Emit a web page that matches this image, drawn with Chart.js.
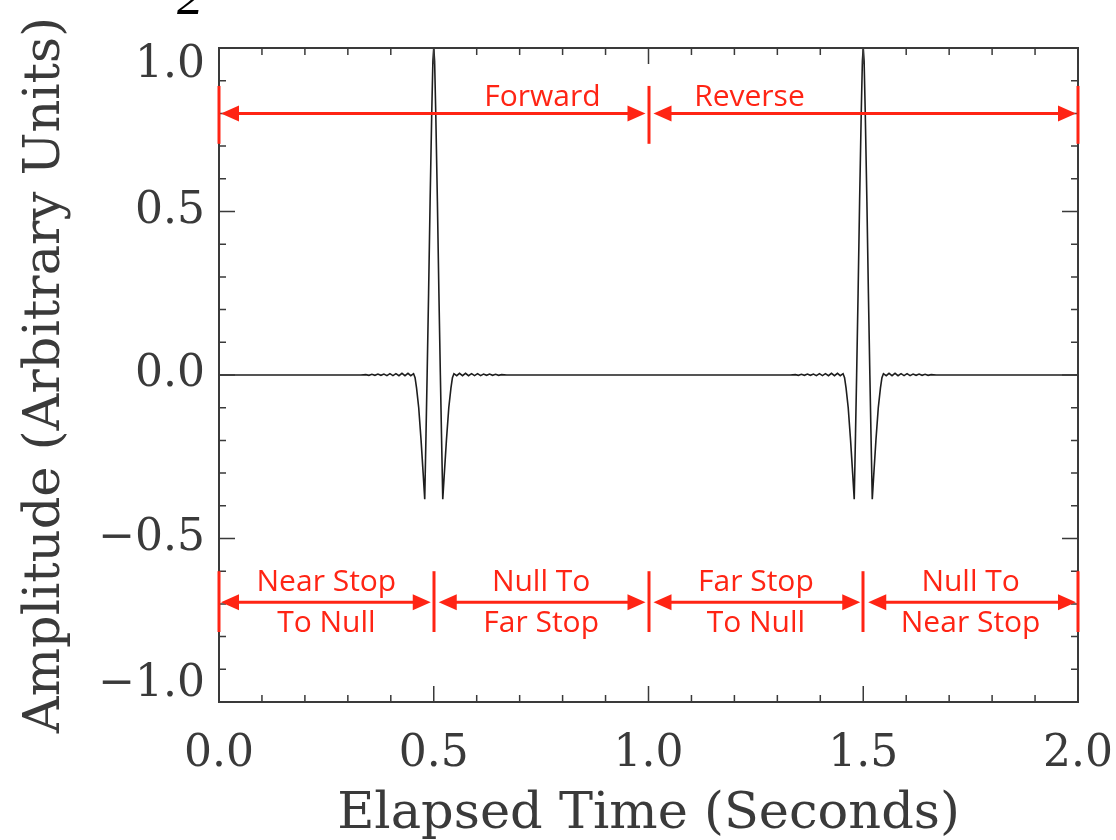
<!DOCTYPE html>
<html>
<head>
<meta charset="utf-8">
<title>Pulse timing</title>
<script src="https://cdn.jsdelivr.net/npm/chart.js@4.4.1/dist/chart.umd.min.js"></script>
<style>
  html, body { margin: 0; padding: 0; background: #fff; }
  #wrap { width: 1116px; height: 840px; position: relative; }
</style>
</head>
<body>
<div id="wrap"><canvas id="pulse-chart"></canvas></div>
<script>
// axis ticks
const xTicks = [0.0, 0.5, 1.0, 1.5, 2.0];
const yTicks = [-1.0, -0.5, 0.0, 0.5, 1.0];

// pulse shape, as offset (s) from the pulse centre
const pulseCenters = [0.5, 1.5];
const pulseOffsets = [
    -0.170, -0.158, -0.151, -0.144, -0.137, -0.130, -0.123, -0.116, -0.109, -0.102,
    -0.095, -0.088, -0.081, -0.074, -0.067, -0.060, -0.0535, -0.047, -0.0435,
    -0.040, -0.035, -0.0295, -0.0247, -0.021, -0.018, -0.0154, -0.012, -0.0085, -0.0047, -0.002,
    0,
    0.002, 0.0047, 0.0085, 0.012, 0.0154, 0.018, 0.021, 0.0247, 0.0295, 0.035, 0.040,
    0.0435, 0.047, 0.0535, 0.060, 0.067, 0.074, 0.081, 0.088, 0.095,
    0.102, 0.109, 0.116, 0.123, 0.130, 0.137, 0.144, 0.151, 0.158, 0.170
];
const pulseValues = [
    0, 0.001, -0.001, 0.002, -0.001, 0.003, -0.001, 0.003, -0.002, 0.004,
    -0.002, 0.004, -0.002, 0.005, -0.002, 0.005, -0.002, 0.004, -0.008,
    -0.04, -0.10, -0.20, -0.30, -0.38, -0.18, 0.0, 0.25, 0.53, 0.80, 0.96,
    1.0,
    0.96, 0.80, 0.53, 0.25, 0.0, -0.18, -0.38, -0.30, -0.20, -0.10, -0.04,
    -0.008, 0.004, -0.002, 0.005, -0.002, 0.005, -0.002, 0.004, -0.002,
    0.004, -0.002, 0.003, -0.001, 0.003, -0.001, 0.002, -0.001, 0.001, 0
];

// flat baseline outside the pulses
const baseTimes = [0.0, 1.0, 2.0];
const baseValues = [0, 0, 0];

// red annotations
const directionEdges = [0.0, 1.0, 2.0];
const directionLabels = ['Forward', 'Reverse'];
const directionLabelX = [0.753, 1.235];
const phaseEdges = [0.0, 0.5, 1.0, 1.5, 2.0];
const phaseLabels = [
    ['Near Stop', 'To Null'],
    ['Null To', 'Far Stop'],
    ['Far Stop', 'To Null'],
    ['Null To', 'Near Stop']
];

// build the point list for the trace
const points = [];
baseTimes.forEach((t, i) => points.push({ x: t, y: baseValues[i] }));
pulseCenters.forEach(c => {
    pulseOffsets.forEach((o, i) => points.push({ x: c + o, y: pulseValues[i] }));
});
points.sort((a, b) => a.x - b.x);

const RED = '#ff2414';
const INK = '#3a3a3a';
const serif = '"DejaVu Serif", serif';

function fmt(v) {
    const s = Math.abs(v).toFixed(1);
    return v < 0 ? '\u2212' + s : s;
}

function drawArrow(ctx, x1, x2, y) {
    const head = 18, half = 8;
    ctx.beginPath();
    ctx.moveTo(x1 + head - 2, y);
    ctx.lineTo(x2 - head + 2, y);
    ctx.stroke();
    ctx.beginPath();
    ctx.moveTo(x1, y);
    ctx.lineTo(x1 + head, y - half);
    ctx.lineTo(x1 + head, y + half);
    ctx.closePath();
    ctx.fill();
    ctx.beginPath();
    ctx.moveTo(x2, y);
    ctx.lineTo(x2 - head, y - half);
    ctx.lineTo(x2 - head, y + half);
    ctx.closePath();
    ctx.fill();
}

function drawSpans(ctx, xs, ys, edges, arrowY, barTop, barBottom) {
    const yA = ys.getPixelForValue(arrowY);
    const y1 = ys.getPixelForValue(barTop);
    const y2 = ys.getPixelForValue(barBottom);
    ctx.strokeStyle = RED;
    ctx.fillStyle = RED;
    ctx.lineWidth = 3;
    edges.forEach(e => {
        const px = Math.round(xs.getPixelForValue(e));
        ctx.beginPath();
        ctx.moveTo(px, y1);
        ctx.lineTo(px, y2);
        ctx.stroke();
    });
    for (let i = 0; i < edges.length - 1; i++) {
        const a = xs.getPixelForValue(edges[i]);
        const b = xs.getPixelForValue(edges[i + 1]);
        const ga = i === 0 ? 2 : 5;
        const gb = i === edges.length - 2 ? 2 : 3;
        drawArrow(ctx, a + ga, b - gb, yA);
    }
}

const framePlugin = {
    id: 'frame',
    afterDatasetsDraw(chart) {
        const { ctx, chartArea: ca, scales: { x, y } } = chart;
        ctx.save();

        // box around the plot
        ctx.strokeStyle = INK;
        ctx.lineWidth = 2;
        ctx.strokeRect(ca.left, ca.top, ca.right - ca.left, ca.bottom - ca.top);

        // inward ticks on all four sides, minor every 0.1
        ctx.lineWidth = 1.5;
        const majorLen = 16, minorLen = 7;
        for (let i = 0; i <= Math.round((x.max - x.min) / 0.1); i++) {
            const v = x.min + i * 0.1;
            const px = x.getPixelForValue(v);
            const len = xTicks.some(t => Math.abs(t - v) < 1e-6) ? majorLen : minorLen;
            ctx.beginPath();
            ctx.moveTo(px, ca.bottom); ctx.lineTo(px, ca.bottom - len);
            ctx.moveTo(px, ca.top); ctx.lineTo(px, ca.top + len);
            ctx.stroke();
        }
        for (let i = 0; i <= Math.round((y.max - y.min) / 0.1); i++) {
            const v = y.min + i * 0.1;
            const py = y.getPixelForValue(v);
            const len = yTicks.some(t => Math.abs(t - v) < 1e-6) ? majorLen : minorLen;
            ctx.beginPath();
            ctx.moveTo(ca.left, py); ctx.lineTo(ca.left + len, py);
            ctx.moveTo(ca.right, py); ctx.lineTo(ca.right - len, py);
            ctx.stroke();
        }

        // red brackets
        drawSpans(ctx, x, y, directionEdges, 0.8, 0.884, 0.707);
        drawSpans(ctx, x, y, phaseEdges, -0.695, -0.60, -0.786);

        ctx.fillStyle = RED;
        ctx.font = '30px "Open Sans", sans-serif';
        ctx.textAlign = 'center';
        ctx.textBaseline = 'alphabetic';
        directionLabels.forEach((t, i) => {
            ctx.fillText(t, x.getPixelForValue(directionLabelX[i]), y.getPixelForValue(0.823));
        });
        phaseLabels.forEach((lines, i) => {
            const cx = x.getPixelForValue((phaseEdges[i] + phaseEdges[i + 1]) / 2);
            ctx.fillText(lines[0], cx, y.getPixelForValue(-0.662));
            ctx.fillText(lines[1], cx, y.getPixelForValue(-0.787));
        });

        // clipped glyph of a caption above the figure
        ctx.fillStyle = '#000';
        ctx.font = 'italic 52px "Liberation Serif", serif';
        ctx.textAlign = 'left';
        ctx.fillText('2', 177, 14);

        ctx.restore();
    }
};

const ctx = document.getElementById('pulse-chart').getContext('2d');
new Chart(ctx, {
    type: 'line',
    data: {
        datasets: [{
            data: points,
            borderColor: '#1e1e1e',
            borderWidth: 1.6,
            pointRadius: 0,
            tension: 0,
            fill: false
        }]
    },
    options: {
        responsive: true,
        maintainAspectRatio: false,
        animation: false,
        layout: { padding: { top: 48, right: 38, left: 0, bottom: 0 } },
        plugins: {
            legend: { display: false },
            tooltip: { enabled: false }
        },
        scales: {
            x: {
                type: 'linear',
                min: 0,
                max: 2,
                afterBuildTicks: (axis) => { axis.ticks = xTicks.map(v => ({ value: v })); },
                afterFit: (axis) => {
                    axis.height = 138;
                    axis.paddingLeft = 0;
                    axis.paddingRight = 0;
                },
                grid: { display: false, drawTicks: false },
                border: { display: false },
                ticks: {
                    padding: 26,
                    color: INK,
                    font: { family: serif, size: 44 },
                    callback: (v) => fmt(v)
                },
                title: {
                    display: true,
                    text: 'Elapsed Time (Seconds)',
                    color: INK,
                    font: { family: serif, size: 51, lineHeight: 1 },
                    padding: { top: 0, bottom: 0 }
                }
            },
            y: {
                type: 'linear',
                min: -1,
                max: 1,
                afterBuildTicks: (axis) => { axis.ticks = yTicks.map(v => ({ value: v })); },
                afterFit: (axis) => {
                    axis.width = 219;
                    axis.paddingTop = 0;
                    axis.paddingBottom = 0;
                },
                grid: { display: false, drawTicks: false },
                border: { display: false },
                ticks: {
                    padding: 14,
                    color: INK,
                    font: { family: serif, size: 44, lineHeight: 0.78 },
                    callback: (v) => {
                        const s = fmt(v);
                        if (v === 1) return ['', s];
                        if (v === -1) return [s, ''];
                        return s;
                    }
                },
                title: {
                    display: true,
                    text: 'Amplitude (Arbitrary Units)',
                    color: INK,
                    font: { family: serif, size: 51, lineHeight: 1 },
                    padding: { top: 20, bottom: 0 }
                }
            }
        }
    },
    plugins: [framePlugin]
});
</script>
</body>
</html>
